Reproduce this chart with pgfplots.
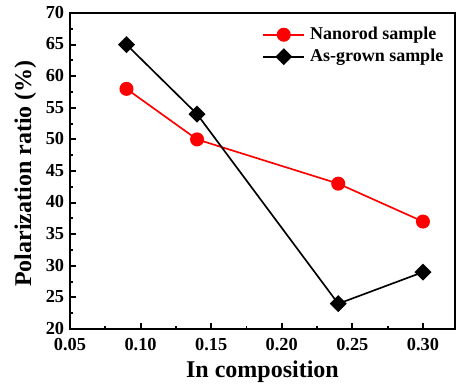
\documentclass[border=0pt]{standalone}
\usepackage{fontspec}
\setmainfont{Liberation Serif}
\usepackage{pgfplots}
\pgfplotsset{compat=1.18}
\begin{document}
\begin{tikzpicture}
\begin{axis}[
  scale only axis,
  width=231pt, height=189.6pt,
  xmin=0.05, xmax=0.3227,
  ymin=20, ymax=70,
  xtick={0.05,0.10,0.15,0.20,0.25,0.30},
  xticklabels={0.05,0.10,0.15,0.20,0.25,0.30},
  ytick={20,25,...,70},
  minor x tick num=1,
  minor y tick num=1,
  tick align=inside,
  xtick pos=bottom, ytick pos=left,
  major tick length=3.8pt, minor tick length=2pt,
  axis line style={line width=1.5pt},
  every tick/.style={black, line width=1.1pt},
  /pgf/number format/assume math mode=true,
  tick label style={font=\fontsize{11}{12}\selectfont\bfseries},
  xticklabel style={yshift=-2pt},
  yticklabel style={yshift=0.4pt},
  xlabel={In composition},
  ylabel={Polarization ratio (\%)},
  label style={font=\fontsize{14.4}{16}\selectfont\bfseries, inner sep=0pt},
  xlabel style={at={(axis description cs:0.5,-0.155)}, anchor=base},
  ylabel style={at={(axis description cs:-0.101,0.492)}, anchor=base},
  legend style={draw=none, fill=none, at={(axis description cs:0.499,0.956)}, anchor=north west,
    inner sep=0pt, nodes={inner sep=0pt},
    font=\fontsize{10.8}{12}\selectfont\bfseries, row sep=4.2pt,
    /tikz/every odd column/.append style={column sep=3pt}},
  legend cell align=left,
  legend image code/.code={
    \draw[mark repeat=2,mark phase=2,#1] plot coordinates {(0pt,0pt) (12.3pt,0pt) (24.6pt,0pt)};
  },
]
\addplot[red, line width=1pt, mark=*, mark size=3.7pt, mark options={fill=red, draw=red, solid}]
  coordinates {(0.09,58) (0.14,50) (0.24,43) (0.30,37)};
\addlegendentry{Nanorod sample}
\addplot[black, line width=1pt, mark=square*, mark size=3.1pt, mark options={fill=black, solid, rotate=45}]
  coordinates {(0.09,65) (0.14,54) (0.24,24) (0.30,29)};
\addlegendentry{As-grown sample}
\end{axis}
\pgfresetboundingbox
\path[use as bounding box] ([shift={(-42pt,-33.6pt)}]current axis.south west) rectangle ([shift={(0.6pt,7.8pt)}]current axis.north east);
\end{tikzpicture}
\end{document}
